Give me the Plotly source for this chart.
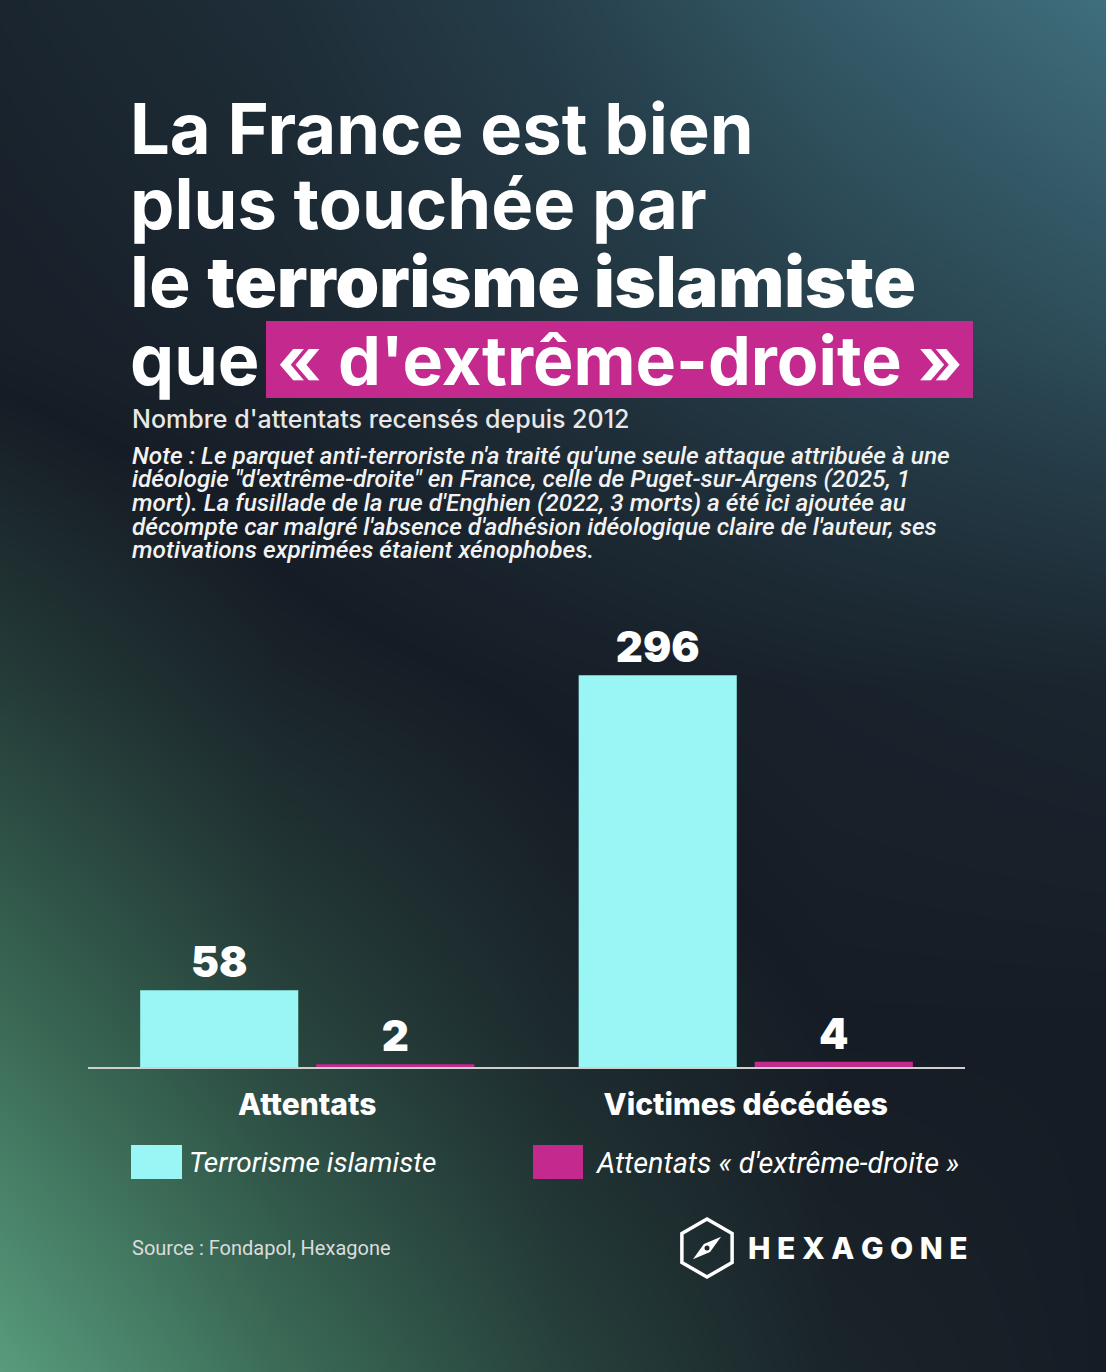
import math
import plotly.graph_objects as go

W, H = 1106, 1372

# data
categories = ["Attentats", "Victimes décédées"]
islamiste = [58, 296]
extreme_droite = [2, 4]
series_names = ["Terrorisme islamiste", "Attentats « d'extrême-droite »"]

title_lines = ["La France est bien", "plus touchée par", "le ", "terrorisme islamiste", "que", "« d'extrême-droite »"]
subtitle = "Nombre d'attentats recensés depuis 2012"
note_lines = [
    "Note : Le parquet anti-terroriste n'a traité qu'une seule attaque attribuée à une",
    "idéologie \"d'extrême-droite\" en France, celle de Puget-sur-Argens (2025, 1",
    "mort). La fusillade de la rue d'Enghien (2022, 3 morts) a été ici ajoutée au",
    "décompte car malgré l'absence d'adhésion idéologique claire de l'auteur, ses",
    "motivations exprimées étaient xénophobes.",
]
source = "Source : Fondapol, Hexagone"
brand = "H E X A G O N E"

CYAN = "#99f6f4"
PINK = "#c4298e"
WHITE = "#ffffff"

# background glow control grid (bottom row first), 0 = green, 0.5 = dark, 1 = teal
bg_x = [0, 0.25, 0.5, 0.75, 1]
bg_y = [0, 0.25, 0.5, 0.75, 1]
bg_z = [
    [0.00, 0.20, 0.36, 0.47, 0.50],
    [0.20, 0.35, 0.45, 0.50, 0.50],
    [0.38, 0.47, 0.51, 0.54, 0.56],
    [0.52, 0.56, 0.64, 0.74, 0.82],
    [0.56, 0.62, 0.74, 0.89, 1.00],
]


def px(x):
    return x / W


def py(y):
    return 1 - y / H


fig = go.Figure()

fig.add_trace(go.Heatmap(
    x=bg_x, y=bg_y, z=bg_z, zmin=0, zmax=1, zsmooth="best", showscale=False, hoverinfo="skip",
    colorscale=[[0, "#589c7c"], [0.25, "#35604f"], [0.5, "#161c25"], [0.75, "#27414d"], [1, "#3f6e7c"]],
    xaxis="x", yaxis="y",
))

bar_font = dict(family="Inter", size=42, color=WHITE, weight=900)
for vals, name, col in [(islamiste, series_names[0], CYAN), (extreme_droite, series_names[1], PINK)]:
    fig.add_trace(go.Bar(
        x=categories, y=vals, name=name, marker=dict(color=col, line=dict(width=0)),
        text=vals, texttemplate="%{y}", textposition="outside", textfont=bar_font,
        constraintext="none", cliponaxis=False, xaxis="x2", yaxis="y2", showlegend=False,
    ))

annotations = []


def label(text, x, y, size, family="Inter", weight=700, color=WHITE, style="normal", anchor="left"):
    annotations.append(dict(
        text=text, x=px(x), y=py(y), xref="paper", yref="paper", xanchor=anchor, yanchor="middle",
        showarrow=False, font=dict(family=family, size=size, weight=weight, color=color, style=style),
    ))


# title
label(title_lines[0], 128, 154 - 25.5, 70.5)
label(title_lines[1], 128, 229 - 25.5, 70.5)
label(title_lines[2] + "<span style='font-weight:900'>" + title_lines[3] + "</span>", 128, 307 - 25.5, 70)
label(title_lines[4], 128, 385 - 25.5, 70)
label(title_lines[5], 619.5, 385 - 25, 68, anchor="center")

label(subtitle, 130, 428 - 9, 25, weight=500, color="#e8e8e8")
for i, line in enumerate(note_lines):
    label(line, 130, 463 + i * 23.7 - 8, 24.4, family="Roboto", weight=500, color="#f2f2f2", style="italic")

# legend
label(series_names[0], 187, 1172 - 9.5, 28, family="Roboto", weight=400, style="italic")
label(series_names[1], 593, 1172 - 9.5, 28.8, family="Roboto", weight=400, style="italic")

label(source, 130, 1255 - 7, 20, family="Roboto", weight=400, color="#dcdcdc")
label(brand, 746, 1248, 30, weight=800)

shapes = [
    dict(type="rect", xref="paper", yref="paper", x0=px(266), x1=px(973), y0=py(398), y1=py(321),
         fillcolor=PINK, line=dict(width=0), layer="above"),
    dict(type="rect", xref="paper", yref="paper", x0=px(131), x1=px(182), y0=py(1179), y1=py(1145),
         fillcolor=CYAN, line=dict(width=0)),
    dict(type="rect", xref="paper", yref="paper", x0=px(533), x1=px(583), y0=py(1179), y1=py(1145),
         fillcolor=PINK, line=dict(width=0)),
]

# logo: hexagon + compass needle
cx, cy, r = 707, 1248, 29
pts = [(cx + r * math.cos(math.radians(90 + 60 * k)), cy - r * math.sin(math.radians(90 + 60 * k))) for k in range(6)]
hex_path = "M" + " L".join(f"{px(a):.5f},{py(b):.5f}" for a, b in pts) + " Z"
shapes.append(dict(type="path", xref="paper", yref="paper", path=hex_path,
                   line=dict(color=WHITE, width=3.5), fillcolor="rgba(0,0,0,0)"))
ux, uy = 0.78, -0.62
vx, vy = -uy, ux
needle = [(cx + 18 * ux, cy + 18 * uy), (cx + 5 * vx, cy + 5 * vy), (cx - 18 * ux, cy - 18 * uy), (cx - 5 * vx, cy - 5 * vy)]
needle_path = "M" + " L".join(f"{px(a):.5f},{py(b):.5f}" for a, b in needle) + " Z"
shapes.append(dict(type="path", xref="paper", yref="paper", path=needle_path,
                   line=dict(width=0), fillcolor=WHITE))
shapes.append(dict(type="circle", xref="paper", yref="paper", x0=px(cx - 2.5), x1=px(cx + 2.5),
                   y0=py(cy + 2.5), y1=py(cy - 2.5), fillcolor="#1c2a2a", line=dict(width=0)))

fig.update_layout(
    width=W, height=H, margin=dict(l=0, r=0, t=0, b=0),
    paper_bgcolor="#161c25", plot_bgcolor="rgba(0,0,0,0)",
    xaxis=dict(domain=[0, 1], range=[0, 1], visible=False, fixedrange=True),
    yaxis=dict(domain=[0, 1], range=[0, 1], visible=False, fixedrange=True),
    xaxis2=dict(domain=[px(88), px(965)], anchor="y2", showline=True, linecolor="#cfcfcf", linewidth=2,
                ticks="", showgrid=False, ticklabelstandoff=10, fixedrange=True,
                tickfont=dict(family="Inter", size=30, weight=800, color=WHITE)),
    yaxis2=dict(domain=[py(1067), py(617)], range=[0, 340], anchor="x2", visible=False, fixedrange=True),
    barmode="group", bargap=0.197, bargroupgap=0.102,
    annotations=annotations, shapes=shapes, showlegend=False,
)

fig.write_html("out.html", config={"displayModeBar": False},
               post_script="document.body.style.margin='0';document.body.style.overflow='hidden';")
